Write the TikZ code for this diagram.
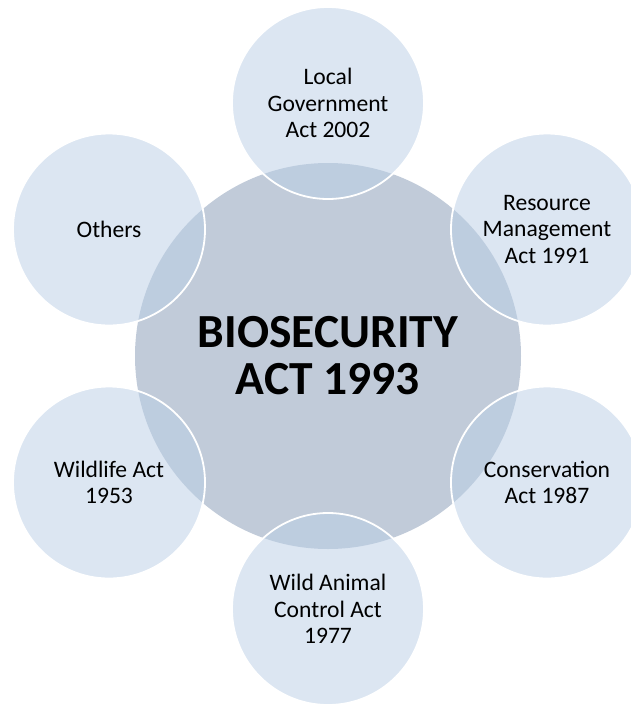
\documentclass[tikz,border=0pt]{standalone}
\usepackage{fontspec}
\setmainfont{Carlito}
\definecolor{hubfill}{RGB}{193,203,217}
\definecolor{actfill}{RGB}{187,207,230}
\begin{document}
\begin{tikzpicture}[x=1pt,y=-1pt,
    hub/.style={circle,fill=hubfill,minimum size=386pt,inner sep=0pt,align=center,
        font=\fontsize{47.5}{47}\selectfont\bfseries},
    act/.style={circle,draw=white,line width=1.8pt,fill=actfill,fill opacity=0.52,text opacity=1,
        minimum size=192pt,inner sep=0pt,align=center,font=\fontsize{23.6}{26.5}\selectfont}]
    % Frame
    \useasboundingbox (0,0) rectangle (630,705);
    
    % Hub
    \node[hub] (biosec) at (328,356) {BIOSECURITY\\ACT 1993};
    
    % Acts around the hub
    \node[act] (localgov) at (328,103) {Local\\Government\\Act 2002};
    \node[act] (resource) at (547,229.5) {Resource\\Management\\Act 1991};
    \node[act] (conserv)  at (547,482.5) {Conservation\\Act 1987};
    \node[act] (wildanim) at (328,609) {Wild Animal\\Control Act\\1977};
    \node[act] (wildlife) at (109,482.5) {Wildlife Act\\1953};
    \node[act] (others)   at (109,229.5) {Others};
\end{tikzpicture}
\end{document}
